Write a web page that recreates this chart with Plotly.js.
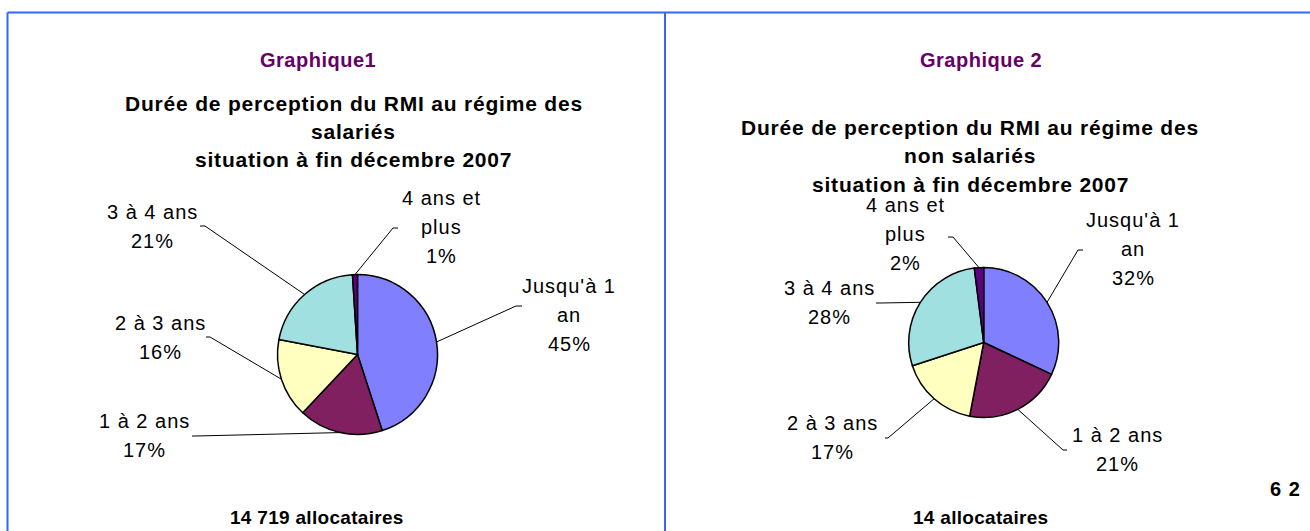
<!DOCTYPE html>
<html>
<head>
<meta charset="utf-8">
<script src="https://cdn.plot.ly/plotly-3.0.1.min.js"></script>
<style>
html,body{margin:0;padding:0;background:#fff;}
#chart{width:1310px;height:531px;}
</style>
</head>
<body>
<div id="chart"></div>
<script>
// ---- data ----
const categories = ["Jusqu'à 1 an", "1 à 2 ans", "2 à 3 ans", "3 à 4 ans", "4 ans et plus"];
const valuesSalaries = [45, 17, 16, 21, 1];
const valuesNonSalaries = [32, 21, 17, 28, 2];
const sliceColors = ["#8080FF", "#802060", "#FFFFC0", "#A0E0E0", "#600080"];
const headings = ["Graphique1", "Graphique 2"];
const titlesSalaries = ["Durée de perception du RMI au régime des", "salariés", "situation à fin décembre 2007"];
const titlesNonSalaries = ["Durée de perception du RMI au régime des", "non salariés", "situation à fin décembre 2007"];
const footers = ["14 719 allocataires", "14 allocataires"];
const pageNumber = "6 2";

// ---- layout helpers (pixel -> paper) ----
const W = 1310, H = 531;
const px = x => x / W;
const py = y => 1 - y / H;
const FONT = "Liberation Sans, Arial, sans-serif";
const LS = 29;
const sp = (t, n) => `<span style="letter-spacing:${n}px">${t}</span>`;

const pies = [
  { values: valuesSalaries, cx: 357.5, cy: 354.5, r: 80,
    labels: [
      { x: 569, y: 286, a: [522, 306], b: [516, 306] },
      { x: 144, y: 421, a: [192, 436], b: [196, 436] },
      { x: 160.5, y: 323, a: [206, 337], b: [210, 337] },
      { x: 152.5, y: 212, a: [200, 226], b: [205, 226] },
      { x: 441.5, y: 198, a: [398, 228], b: [393, 228] }
    ] },
  { values: valuesNonSalaries, cx: 983.7, cy: 342.5, r: 75,
    labels: [
      { x: 1133, y: 220, a: [1083, 250], b: [1078, 250] },
      { x: 1117, y: 435, a: [1067, 450], b: [1063, 450] },
      { x: 832, y: 423, a: [885, 438], b: [888, 438] },
      { x: 829, y: 288, a: [876, 303], b: [880, 303] },
      { x: 905, y: 205, a: [948, 237], b: [953, 237] }
    ] }
];

function wrapLabel(s) {
  if (s.length <= 10) return [s];
  const i = s.lastIndexOf(" ");
  return [s.slice(0, i), s.slice(i + 1)];
}

const traces = [];
const annotations = [];
const shapes = [];

pies.forEach(p => {
  traces.push({
    type: "pie",
    labels: categories,
    values: p.values,
    sort: false,
    direction: "clockwise",
    rotation: 0,
    textinfo: "none",
    hoverinfo: "skip",
    showlegend: false,
    marker: { colors: sliceColors, line: { color: "#000", width: 1.5 } },
    domain: { x: [px(p.cx - p.r), px(p.cx + p.r)], y: [py(p.cy + p.r), py(p.cy - p.r)] }
  });
  const total = p.values.reduce((a, b) => a + b, 0);
  let cum = 0;
  p.values.forEach((v, i) => {
    const mid = (cum + v / 2) / total * 2 * Math.PI;
    cum += v;
    const sx = p.cx + p.r * Math.sin(mid);
    const sy = p.cy - p.r * Math.cos(mid);
    const L = p.labels[i];
    const lines = wrapLabel(categories[i]).concat([Math.round(v / total * 100) + "%"]);
    lines.forEach((t, k) => {
      annotations.push({
        text: sp(t, 1), showarrow: false, xref: "paper", yref: "paper",
        x: px(L.x), y: py(L.y + k * LS), xanchor: "center", yanchor: "middle",
        font: { family: FONT, size: 20, color: "#000" }
      });
    });
    shapes.push({
      type: "path", xref: "paper", yref: "paper",
      path: `M ${px(L.a[0])} ${py(L.a[1])} L ${px(L.b[0])} ${py(L.b[1])} L ${px(sx)} ${py(sy)}`,
      line: { color: "#000", width: 1 }
    });
  });
});

// headings and titles
const titleSets = [
  { head: headings[0], hx: 318, lines: titlesSalaries, tx: 354, ty: 103, foot: footers[0], fx: 317 },
  { head: headings[1], hx: 981, lines: titlesNonSalaries, tx: 970, ty: 128, foot: footers[1], fx: 980 }
];
titleSets.forEach(s => {
  annotations.push({ text: "<b>" + sp(s.head, 0.5) + "</b>", showarrow: false, xref: "paper", yref: "paper",
    x: px(s.hx), y: py(60), xanchor: "center", yanchor: "middle",
    font: { family: FONT, size: 20, color: "#660066" } });
  s.lines.forEach((t, k) => {
    annotations.push({ text: "<b>" + sp(t, 0.8) + "</b>", showarrow: false, xref: "paper", yref: "paper",
      x: px(s.tx), y: py(s.ty + k * 28), xanchor: "center", yanchor: "middle",
      font: { family: FONT, size: 21, color: "#000" } });
  });
  annotations.push({ text: "<b>" + sp(s.foot, 0.3) + "</b>", showarrow: false, xref: "paper", yref: "paper",
    x: px(s.fx), y: py(517), xanchor: "center", yanchor: "middle",
    font: { family: FONT, size: 19, color: "#000" } });
});
annotations.push({ text: "<b>" + sp(pageNumber, 1) + "</b>", showarrow: false, xref: "paper", yref: "paper",
  x: px(1285), y: py(489), xanchor: "center", yanchor: "middle",
  font: { family: FONT, size: 20, color: "#000" } });

// frame lines
const BLUE = "#3366FF";
shapes.push({ type: "line", xref: "paper", yref: "paper", x0: px(7.5), x1: 1, y0: py(12.5), y1: py(12.5), line: { color: BLUE, width: 2 } });
shapes.push({ type: "line", xref: "paper", yref: "paper", x0: px(7.5), x1: px(7.5), y0: py(12.5), y1: 0, line: { color: BLUE, width: 2 } });
shapes.push({ type: "line", xref: "paper", yref: "paper", x0: px(665), x1: px(665), y0: py(12.5), y1: 0, line: { color: BLUE, width: 2 } });

Plotly.newPlot("chart", traces, {
  width: W, height: H,
  margin: { l: 0, r: 0, t: 0, b: 0 },
  paper_bgcolor: "#fff", plot_bgcolor: "#fff",
  annotations: annotations, shapes: shapes
}, { displayModeBar: false, staticPlot: true });
</script>
</body>
</html>
